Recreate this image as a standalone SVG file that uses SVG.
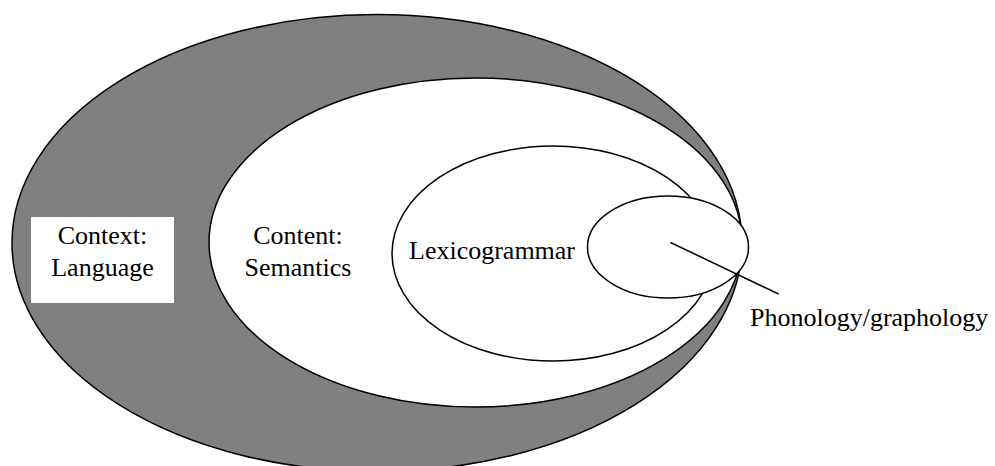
<svg xmlns="http://www.w3.org/2000/svg" width="995" height="466" viewBox="0 0 995 466">
<style>
.s{stroke:#000;stroke-width:1.5}
.t{font-family:"Liberation Serif","Times New Roman",serif;font-size:26px;fill:#000}
</style>
<rect width="995" height="466" fill="#fff"/>
<g id="context">
<ellipse cx="377" cy="243" rx="365" ry="228.5" fill="#808080" class="s"/>
<rect x="31" y="217" width="143" height="86" fill="#fff"/>
<text class="t" x="102.5" y="243.5" text-anchor="middle">Context:</text>
<text class="t" x="102.5" y="275.5" text-anchor="middle">Language</text>
</g>
<g id="content">
<ellipse cx="475.5" cy="242.5" rx="266.5" ry="164.5" fill="#fff" class="s"/>
<text class="t" x="298" y="243.5" text-anchor="middle">Content:</text>
<text class="t" x="298" y="275.5" text-anchor="middle">Semantics</text>
</g>
<g id="lexicogrammar">
<ellipse cx="553" cy="253.5" rx="161" ry="107.5" fill="#fff" class="s"/>
<text class="t" x="409" y="258.5">Lexicogrammar</text>
</g>
<g id="phonology">
<ellipse cx="668" cy="247" rx="80.5" ry="51" fill="#fff" class="s"/>
<text class="t" x="750" y="326">Phonology/graphology</text>
</g>
<g id="connectors">
<line x1="670.5" y1="242.5" x2="778.5" y2="294" class="s"/>
</g>
</svg>
